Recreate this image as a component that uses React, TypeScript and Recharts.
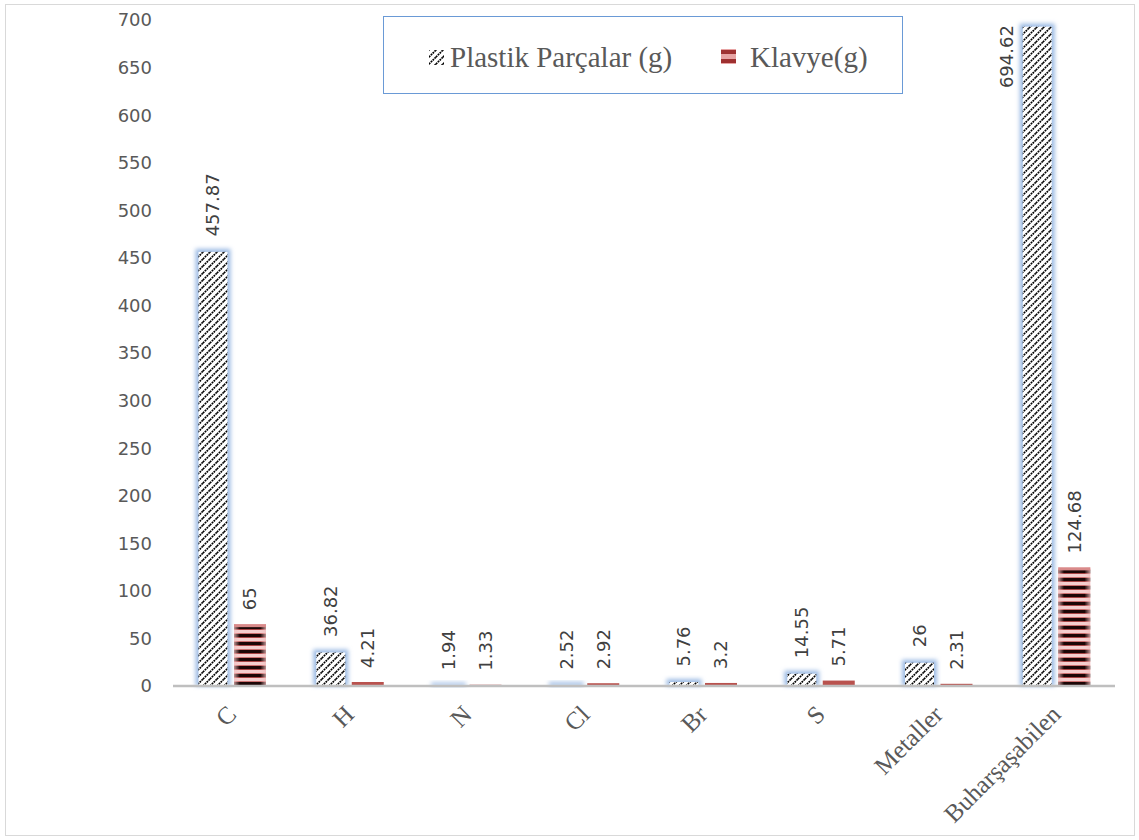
import React from 'react';
import { BarChart, Bar, XAxis, YAxis, LabelList } from 'recharts';

// Element / fraction names along the x axis
const categories = ['C', 'H', 'N', 'Cl', 'Br', 'S', 'Metaller', 'Buharşaşabilen'];
// Mass in grams per category
const plastikValues = [457.87, 36.82, 1.94, 2.52, 5.76, 14.55, 26, 694.62];
const klavyeValues = [65, 4.21, 1.33, 2.92, 3.2, 5.71, 2.31, 124.68];
const seriesNames = ['Plastik Parçalar (g)', 'Klavye(g)'];
const yTicks = [0, 50, 100, 150, 200, 250, 300, 350, 400, 450, 500, 550, 600, 650, 700];

const data = categories.map((name, i) => ({
  name,
  plastik: plastikValues[i],
  klavye: klavyeValues[i],
}));

const W = 1139;
const H = 840;
const labelFont = 'DejaVu Sans, sans-serif';
const serifFont = '"Liberation Serif", "Times New Roman", serif';

// Shared SVG paint servers (patterns, gradients, filters)
const Defs = () => (
  <svg width={0} height={0} style={{ position: 'absolute' }}>
    <defs>
      <pattern id="diag" patternUnits="userSpaceOnUse" width={7} height={7}>
        <rect width={7} height={7} fill="#ffffff" />
        <path
          d="M-1,1 l2,-2 M0,7 l7,-7 M6,8 l2,-2"
          stroke="#000"
          strokeWidth={1.7}
          strokeDasharray="1.8 0.8"
        />
      </pattern>
      <pattern id="stripes" patternUnits="userSpaceOnUse" width={8} height={8}>
        <rect width={8} height={8} fill="#f4cfcf" />
        <rect y={1} width={8} height={1} fill="#cc7070" />
        <rect y={2} width={8} height={3} fill="#1c0606" />
        <rect y={5} width={8} height={1} fill="#a84444" />
      </pattern>
      <linearGradient id="redEdge" x1="0" y1="0" x2="1" y2="0">
        <stop offset="0" stopColor="#f2c0c0" stopOpacity={0.75} />
        <stop offset="0.18" stopColor="#f2c0c0" stopOpacity={0} />
        <stop offset="0.82" stopColor="#f2c0c0" stopOpacity={0} />
        <stop offset="1" stopColor="#f2c0c0" stopOpacity={0.75} />
      </linearGradient>
      <filter id="glow" x="-50%" y="-50%" width="200%" height="200%">
        <feGaussianBlur stdDeviation={2.2} />
      </filter>
    </defs>
  </svg>
);

const HatchedBar = (props: any) => {
  const { x, y, width, height } = props;
  if (height <= 0) return null;
  return (
    <g>
      <rect x={x - 1.5} y={y - 1.5} width={width + 3} height={height + 1.5} fill="#9dbbe4" filter="url(#glow)" />
      <rect x={x + 1.5} y={y + 1.5} width={width - 3} height={Math.max(height - 1.5, 0)} fill="url(#diag)" />
    </g>
  );
};

const StripedBar = (props: any) => {
  const { x, y, width, height } = props;
  if (height <= 0) return null;
  if (height < 6) {
    return <rect x={x} y={y} width={width} height={height} fill="#b9524e" />;
  }
  return (
    <g>
      <rect x={x} y={y} width={width} height={height} fill="url(#stripes)" />
      <rect x={x} y={y} width={width} height={height} fill="url(#redEdge)" />
      <rect x={x} y={y} width={width} height={3} fill="#d98a8a" />
    </g>
  );
};

const ValueLabel = (props: any) => {
  const { x, y, width, value } = props;
  const cx = x + width / 2;
  if (value > 650) {
    const lx = x - 15;
    return (
      <text
        x={lx}
        y={y}
        transform={`rotate(-90 ${lx} ${y})`}
        textAnchor="end"
        dominantBaseline="central"
        fontFamily={labelFont}
        fontSize={18}
        fill="#404040"
      >
        {value}
      </text>
    );
  }
  const ly = y - 14;
  return (
    <text
      x={cx}
      y={ly}
      transform={`rotate(-90 ${cx} ${ly})`}
      textAnchor="start"
      dominantBaseline="central"
      fontFamily={labelFont}
      fontSize={18}
      fill="#404040"
    >
      {value}
    </text>
  );
};

const CategoryTick = (props: any) => {
  const { x, payload } = props;
  const px = x + 6;
  const py = 716;
  return (
    <text
      x={px}
      y={py}
      transform={`rotate(-45 ${px} ${py})`}
      textAnchor="end"
      fontFamily={serifFont}
      fontSize={25}
      fill="#595959"
    >
      {payload.value}
    </text>
  );
};

const LegendBox = () => (
  <div
    style={{
      position: 'absolute',
      left: 383,
      top: 16,
      width: 520,
      height: 78,
      boxSizing: 'border-box',
      border: '1px solid #6a9ad6',
      background: '#fff',
      fontFamily: serifFont,
      fontSize: 29,
      color: '#595959',
    }}
  >
    <svg width={15} height={15} style={{ position: 'absolute', left: 45, top: 33 }}>
      <rect width={15} height={15} fill="url(#diag)" />
    </svg>
    <span style={{ position: 'absolute', left: 66, top: 26, lineHeight: '29px', whiteSpace: 'nowrap' }}>
      {seriesNames[0]}
    </span>
    <svg width={15} height={15} style={{ position: 'absolute', left: 337, top: 32 }}>
      <rect width={15} height={15} fill="#e7a3a3" />
      <rect y={1} width={15} height={4} fill="#9e3030" />
      <rect y={10} width={15} height={4} fill="#9e3030" />
    </svg>
    <span style={{ position: 'absolute', left: 366, top: 26, lineHeight: '29px', whiteSpace: 'nowrap' }}>
      {seriesNames[1]}
    </span>
  </div>
);

export default function App() {
  return (
    <div style={{ position: 'absolute', left: 0, top: 0, width: W, height: H, background: '#fff' }}>
      <Defs />
      <div
        style={{
          position: 'absolute',
          left: 5,
          top: 4,
          width: 1130,
          height: 832,
          boxSizing: 'border-box',
          border: '1px solid #d9d9d9',
        }}
      />
      <div style={{ position: 'absolute', left: 0, top: 0 }}>
        <BarChart
          width={W}
          height={H}
          data={data}
          margin={{ top: 20, right: 24, left: 0, bottom: 0 }}
          barSize={32}
          barGap={5}
        >
          <XAxis
            dataKey="name"
            height={154}
            interval={0}
            tickLine={false}
            axisLine={{ stroke: '#bfbfbf', strokeWidth: 2.5 }}
            tick={<CategoryTick />}
          />
          <YAxis
            width={173}
            domain={[0, 700]}
            ticks={yTicks}
            interval={0}
            axisLine={false}
            tickLine={false}
            tickSize={0}
            tickMargin={21}
            tick={{ fill: '#595959', fontSize: 18, fontFamily: labelFont }}
          />
          <Bar dataKey="plastik" name={seriesNames[0]} shape={<HatchedBar />} isAnimationActive={false}>
            <LabelList dataKey="plastik" content={<ValueLabel />} />
          </Bar>
          <Bar dataKey="klavye" name={seriesNames[1]} shape={<StripedBar />} isAnimationActive={false}>
            <LabelList dataKey="klavye" content={<ValueLabel />} />
          </Bar>
        </BarChart>
      </div>
      <LegendBox />
    </div>
  );
}
